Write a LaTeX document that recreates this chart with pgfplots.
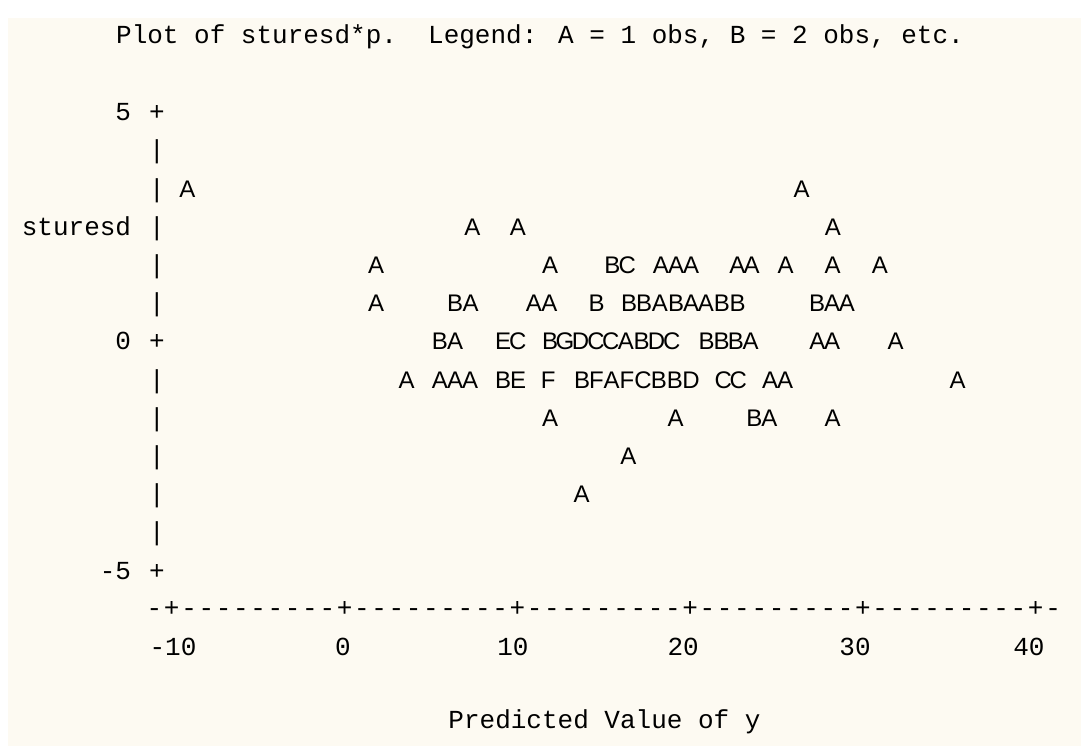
\documentclass[border=0pt]{standalone}
\usepackage{fontspec}
\usepackage{pgfplots}
\usepackage{pgfplotstable}
\pgfplotsset{compat=1.18}
\setmainfont{Liberation Mono}
\newfontfamily\letterfont{Liberation Sans}
\newcommand\mono{\fontsize{13}{15}\selectfont}
\definecolor{listbg}{RGB}{253,250,242}

% sturesd vs predicted value, letter = number of obs at that spot
\pgfplotstableread{
x y c
-9.10 3.333 A
26.45 3.333 A
7.40 2.5 A
10.03 2.5 A
28.26 2.5 A
1.82 1.667 A
11.89 1.667 A
15.49 1.667 B
16.36 1.667 C
18.31 1.667 A
19.18 1.667 A
20.05 1.667 A
22.73 1.667 A
23.56 1.667 A
25.53 1.667 A
28.25 1.667 A
30.98 1.667 A
1.82 0.833 A
6.39 0.833 B
7.30 0.833 A
10.96 0.833 A
11.85 0.833 A
14.59 0.833 B
16.46 0.833 B
17.33 0.833 B
18.25 0.833 A
19.18 0.833 B
20.05 0.833 A
20.91 0.833 A
21.84 0.833 B
22.74 0.833 B
27.34 0.833 B
28.21 0.833 A
29.07 0.833 A
5.52 0 B
6.39 0 A
9.18 0 E
10.02 0 C
11.89 0 B
12.75 0 G
13.66 0 D
14.55 0 C
15.40 0 C
16.28 0 A
17.19 0 B
18.06 0 D
18.93 0 C
20.95 0 B
21.82 0 B
22.65 0 B
23.50 0 A
27.36 0 A
28.22 0 A
31.89 0 A
3.59 -0.833 A
5.52 -0.833 A
6.39 -0.833 A
7.26 -0.833 A
9.18 -0.833 B
10.05 -0.833 E
11.79 -0.833 F
13.74 -0.833 B
14.58 -0.833 F
15.45 -0.833 A
16.34 -0.833 F
17.27 -0.833 C
18.19 -0.833 B
19.12 -0.833 B
20.05 -0.833 D
21.92 -0.833 C
22.78 -0.833 C
24.62 -0.833 A
25.49 -0.833 A
35.48 -0.833 A
11.89 -1.667 A
19.16 -1.667 A
23.71 -1.667 B
24.58 -1.667 A
28.25 -1.667 A
16.42 -2.5 A
13.72 -3.333 A
}\obsdata

% line-printer axis characters
\pgfplotstableread{
y c
5 +
4.167 |
3.333 |
2.5 |
1.667 |
0.833 |
0 +
-0.833 |
-1.667 |
-2.5 |
-3.333 |
-4.167 |
-5 +
}\yaxischars

\pgfplotstableread{
x c
-11 -
-10 +
-9 -
-8 -
-7 -
-6 -
-5 -
-4 -
-3 -
-2 -
-1 -
0 +
1 -
2 -
3 -
4 -
5 -
6 -
7 -
8 -
9 -
10 +
11 -
12 -
13 -
14 -
15 -
16 -
17 -
18 -
19 -
20 +
21 -
22 -
23 -
24 -
25 -
26 -
27 -
28 -
29 -
30 +
31 -
32 -
33 -
34 -
35 -
36 -
37 -
38 -
39 -
40 +
41 -
}\xaxischars

\begin{document}
\begin{tikzpicture}
\fill[white] (0,0) rectangle (540.5pt,373pt);
\fill[listbg] (4pt,0) rectangle (540.5pt,364pt);
\begin{axis}[
    at={(78.5pt,68.85pt)}, anchor=south west,
    scale only axis,
    width=452pt, height=259.15pt,
    xmin=-10.856, xmax=41.46,
    ymin=-5.835, ymax=5.475,
    clip=false,
    axis line style={draw=none},
    tick style={draw=none},
    major tick length=0pt,
    xtick={-9.93,-0.09,9.74,19.59,29.54,39.6},
    xticklabels={-10,0,10,20,30,40},
    ytick={-5,0,5},
    yticklabels={-5,0,5},
    xticklabel style={font=\mono, anchor=base, inner sep=0pt, yshift=-23.35pt},
    yticklabel style={font=\mono, anchor=base east, inner sep=0pt, xshift=-12.75pt, yshift=-4.5pt},
    title={Plot of sturesd*p.\ \ Legend: A = 1 obs, B = 2 obs, etc.},
    title style={font=\mono, at={(axis description cs:0.4237,1)}, anchor=base, inner sep=0pt, yshift=17pt},
    xlabel={Predicted Value of y},
    xlabel style={font=\mono, at={(axis description cs:0.495,0)}, anchor=base, inner sep=0pt, yshift=-60pt},
    ylabel={sturesd},
    ylabel style={font=\mono, rotate=-90, at={(axis description cs:0,0.7370)}, anchor=base east, inner sep=0pt, xshift=-12.75pt, yshift=-4.5pt},
]
\addplot[only marks, mark=none, point meta=explicit symbolic,
    nodes near coords={\pgfplotspointmeta},
    every node near coord/.append style={font=\mono, anchor=base, inner sep=0pt, yshift=-4.5pt}]
    table[x expr=-10.856, y=y, meta=c] {\yaxischars};
\addplot[only marks, mark=none, point meta=explicit symbolic,
    nodes near coords={\pgfplotspointmeta},
    every node near coord/.append style={font=\mono, anchor=base, inner sep=0pt, yshift=-4.2pt}]
    table[x=x, y expr=-5.835, meta=c] {\xaxischars};
\addplot[only marks, mark=none, point meta=explicit symbolic,
    nodes near coords={\pgfplotspointmeta},
    every node near coord/.append style={font=\letterfont\fontsize{12}{14}\selectfont, anchor=base, inner sep=0pt, yshift=-4.5pt}]
    table[x=x, y=y, meta=c] {\obsdata};
\end{axis}
\pgfresetboundingbox
\useasboundingbox (0,0) rectangle (540.5pt,373pt);
\end{tikzpicture}
\end{document}
